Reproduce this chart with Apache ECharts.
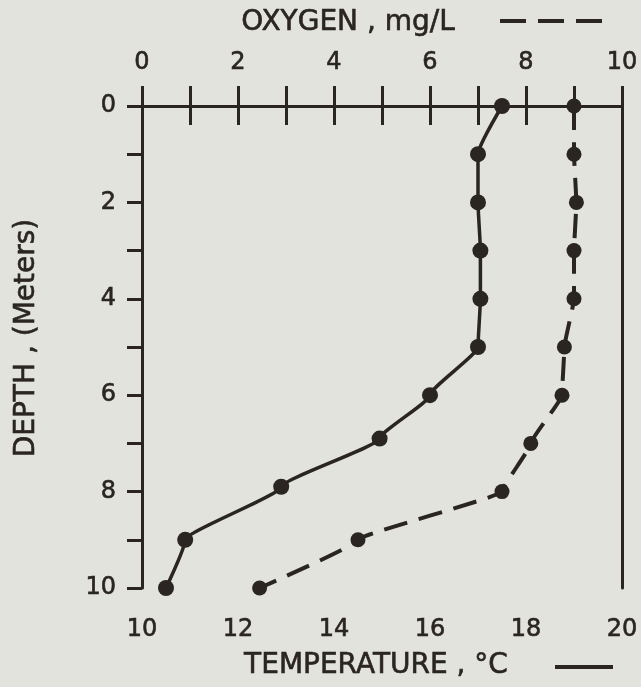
<!DOCTYPE html>
<html>
<head>
<meta charset="utf-8">
<script src="https://cdn.jsdelivr.net/npm/echarts@6/dist/echarts.min.js"></script>
<style>
  html, body { margin: 0; padding: 0; background: #e1e3dc; }
  #chart { width: 641px; height: 687px; }
</style>
</head>
<body>
<div id="chart"></div>
<script>
// Depth profile of a lake: temperature (solid) and dissolved oxygen (dashed)
const depthTemp = [0, 1, 2, 3, 4, 5, 6, 6.9, 7.9, 9, 10];
const temperature = [17.5, 17.0, 17.0, 17.05, 17.05, 17.0, 16.0, 14.95, 12.9, 10.9, 10.5];

const depthOxy = [0, 1, 2, 3, 4, 5, 6, 7, 8, 9, 10];
const oxygen = [9.0, 9.0, 9.05, 9.0, 9.0, 8.8, 8.75, 8.1, 7.5, 4.5, 2.45];

const tempTicks = [10, 20, 1];
const oxyTicks = [0, 10, 1];
const depthTicks = [0, 10, 1];

const ink = '#2a2423';
const font = 'DejaVu Sans';

const evenOnly = v => (Math.round(v) % 2 === 0 ? String(v) : '');

const chart = echarts.init(document.getElementById('chart'), null, { renderer: 'canvas' });

const axisCommon = (tickLen, margin) => ({
  type: 'value',
  axisLine: { show: true, lineStyle: { color: ink, width: 3 } },
  axisTick: { show: true, inside: false, length: tickLen, lineStyle: { color: ink, width: 3 } },
  axisLabel: {
    color: ink, fontFamily: font, fontSize: 24, margin: margin, formatter: evenOnly,
    textBorderColor: ink, textBorderWidth: 0.6
  },
  splitLine: { show: false }
});

const titleStyle = text => ({
  text: text, fill: ink, font: '28px "DejaVu Sans"',
  textAlign: 'center', textVerticalAlign: 'middle',
  stroke: ink, lineWidth: 0.6
});

chart.setOption({
  animation: false,
  backgroundColor: '#e1e3dc',
  grid: { left: 142, right: 19, top: 106, bottom: 99, containLabel: false },
  xAxis: [
    Object.assign(axisCommon(19, 30), {
      position: 'bottom', min: tempTicks[0], max: tempTicks[1], interval: tempTicks[2]
    }),
    Object.assign(axisCommon(20, 31), {
      position: 'top', min: oxyTicks[0], max: oxyTicks[1], interval: oxyTicks[2]
    })
  ],
  yAxis: [
    Object.assign(axisCommon(15, 26), {
      position: 'left', inverse: true, min: depthTicks[0], max: depthTicks[1], interval: depthTicks[2]
    }),
    {
      type: 'value', position: 'right', inverse: true,
      min: depthTicks[0], max: depthTicks[1], interval: depthTicks[2],
      axisLine: { show: true, lineStyle: { color: ink, width: 3 } },
      axisTick: { show: false }, axisLabel: { show: false }, splitLine: { show: false }
    }
  ],
  series: [
    {
      name: 'Temperature',
      type: 'line',
      xAxisIndex: 0, yAxisIndex: 0,
      data: temperature.map((t, i) => [t, depthTemp[i]]),
      smooth: 0.15,
      smoothMonotone: 'y',
      clip: false,
      symbol: 'circle', symbolSize: 16,
      itemStyle: { color: ink },
      lineStyle: { color: ink, width: 3.5 }
    },
    {
      name: 'Oxygen',
      type: 'line',
      xAxisIndex: 1, yAxisIndex: 0,
      data: oxygen.map((o, i) => [o, depthOxy[i]]),
      smooth: 0.1,
      smoothMonotone: 'y',
      clip: false,
      symbol: 'circle', symbolSize: 15,
      itemStyle: { color: ink },
      lineStyle: { color: ink, width: 4, type: [24, 12] }
    }
  ],
  graphic: [
    { type: 'text', x: 348, y: 23, style: titleStyle('OXYGEN , mg/L') },
    {
      type: 'line', shape: { x1: 500, y1: 21, x2: 610, y2: 21 },
      style: { stroke: ink, lineWidth: 4, lineDash: [26, 12] }
    },
    { type: 'text', x: 376, y: 666, style: titleStyle('TEMPERATURE , °C') },
    {
      type: 'line', shape: { x1: 555, y1: 667, x2: 613, y2: 667 },
      style: { stroke: ink, lineWidth: 4 }
    },
    { type: 'text', x: 27, y: 338, rotation: Math.PI / 2, style: titleStyle('DEPTH , (Meters)') }
  ]
});
</script>
</body>
</html>
